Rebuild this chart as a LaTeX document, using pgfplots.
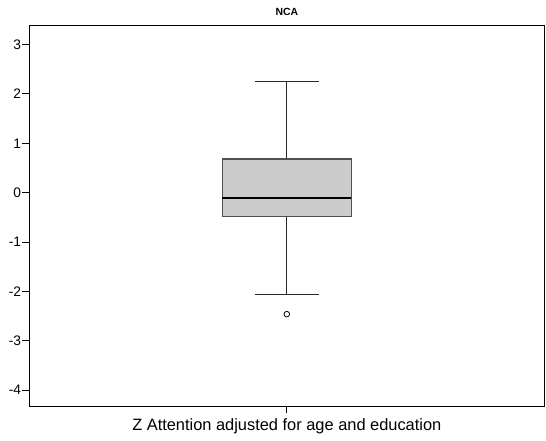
\documentclass[border=0pt]{standalone}
\usepackage{pgfplots}
\pgfplotsset{compat=1.18}
\usepgfplotslibrary{statistics}
\usepackage{fontspec}
\setmainfont{Liberation Sans}
\pgfplotsset{
  boxplot/every box/.style={fill={rgb,255:red,204;green,204;blue,204}, draw={rgb,255:red,80;green,80;blue,80}, line width=1.3pt},
  boxplot/every whisker/.style={draw={rgb,255:red,40;green,40;blue,40}, line width=1.1pt},
  boxplot/every median/.style={draw=black, line width=2pt},
}
\begin{document}
\begin{tikzpicture}
\begin{axis}[
  at={(0pt,0pt)}, anchor=south west,
  scale only axis,
  width=515pt, height=380.3pt,
  xmin=0, xmax=2,
  ymin=-4.32, ymax=3.38,
  axis line style={black, line width=1pt},
  tick align=outside,
  major tick length=7pt,
  tick style={black, line width=0.9pt},
  xtick={1},
  xticklabels={Z Attention adjusted for age and education},
  xticklabel style={font=\fontsize{16.4}{19}\selectfont, anchor=base, yshift=-17.5pt},
  ytick={-4,-3,-2,-1,0,1,2,3},
  yticklabels={-4,-3,-2,-1,0,1,2,3},
  yticklabel style={font=\fontsize{13.8}{16}\selectfont, inner sep=1pt},
  ytick pos=left, xtick pos=bottom,
  title={\textbf{NCA}},
  title style={font=\fontsize{10.4}{12}\selectfont, at={(0.5,1)}, anchor=base, yshift=4pt},
  clip=false,
]
\addplot[
  line width=1.1pt,
  boxplot/draw direction=y,
  boxplot prepared={
    median=-0.10, upper quartile=0.68, lower quartile=-0.49,
    upper whisker=2.25, lower whisker=-2.06,
    draw position=1, box extend=0.5, whisker extend=0.25
  },
  mark=o, mark size=2.8pt, mark options={draw=black, line width=0.8pt, fill=white},
] coordinates {(0,-2.46)};
\end{axis}
\pgfresetboundingbox
\path[use as bounding box] (-29.3pt,-34pt) rectangle (516.7pt,406pt);
\end{tikzpicture}
\end{document}
